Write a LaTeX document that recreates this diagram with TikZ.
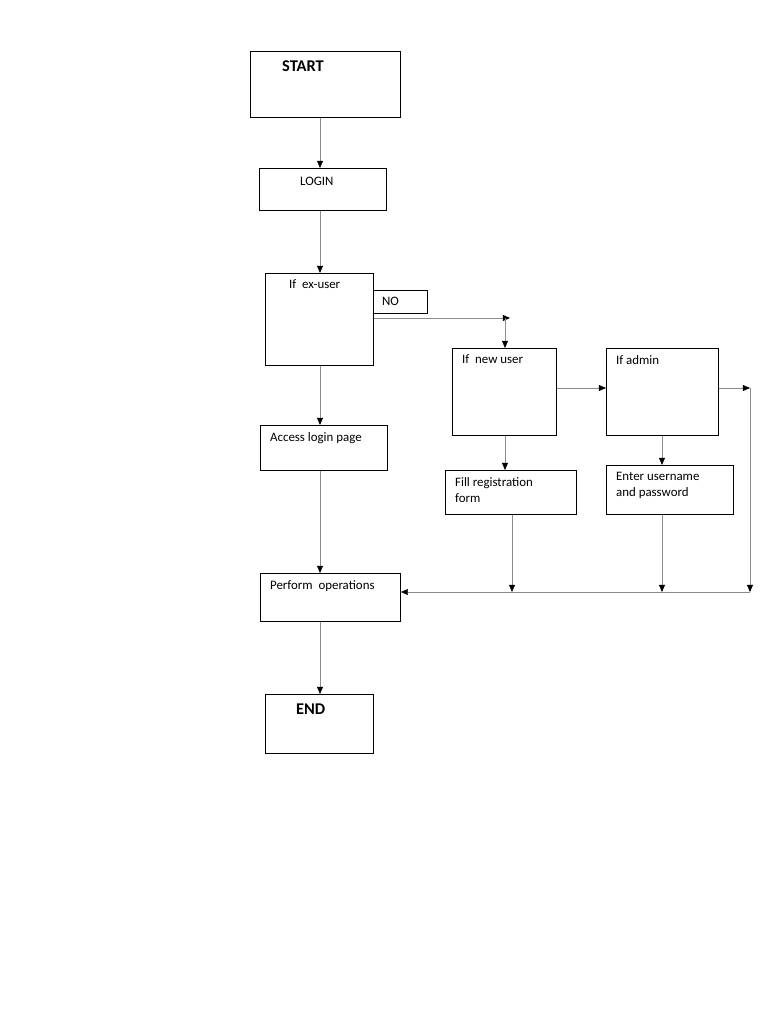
\documentclass[tikz,border=0pt]{standalone}
\usepackage{fontspec}
\setmainfont{Carlito}
\usetikzlibrary{arrows.meta}
\tikzset{
  box/.style={draw, thick, anchor=north west, inner sep=0pt},
  txt/.style={anchor=north west, align=left, font=\fontsize{11}{14}\selectfont},
  big/.style={anchor=north west, font=\fontsize{14}{16}\selectfont\bfseries},
  link/.style={draw=black!45, thin, -{Triangle[black,length=6pt,width=5pt]}},
  plain/.style={draw=black!45, thin}
}
\begin{document}
\begin{tikzpicture}[x=0.03cm,y=-0.03cm]
  \useasboundingbox (0,0) rectangle (768,1024);
  % boxes
  \node[box, minimum width=150*0.03cm, minimum height=66*0.03cm] (start) at (250,51) {};
  \node[big] at (278,57) {START};
  \node[box, minimum width=127*0.03cm, minimum height=42*0.03cm] (login) at (259,168) {};
  \node[txt] at (296,173) {LOGIN};
  \node[box, minimum width=108*0.03cm, minimum height=92*0.03cm] (exuser) at (265,273) {};
  \node[txt] at (285,276) {If\ \ ex-user};
  \node[box, minimum width=54*0.03cm, minimum height=23*0.03cm] (no) at (373,290) {};
  \node[txt] at (378,293) {NO};
  \node[box, minimum width=104*0.03cm, minimum height=87*0.03cm] (newuser) at (452,348) {};
  \node[txt] at (458,351) {If\ \ new user};
  \node[box, minimum width=112*0.03cm, minimum height=87*0.03cm] (admin) at (606,348) {};
  \node[txt] at (612,351) {If admin};
  \node[box, minimum width=127*0.03cm, minimum height=45*0.03cm] (access) at (260,425) {};
  \node[txt] at (266,428) {Access login page};
  \node[box, minimum width=131*0.03cm, minimum height=44*0.03cm] (fill) at (445,470) {};
  \node[txt] at (451,473) {Fill registration\\form};
  \node[box, minimum width=127*0.03cm, minimum height=49*0.03cm] (enter) at (606,465) {};
  \node[txt] at (612,468) {Enter username\\and password};
  \node[box, minimum width=140*0.03cm, minimum height=48*0.03cm] (perform) at (260,573) {};
  \node[txt] at (266,576) {Perform\ \ operations};
  \node[box, minimum width=108*0.03cm, minimum height=59*0.03cm] (end) at (265,694) {};
  \node[big] at (292,700) {END};
  % connectors
  \coordinate (c1) at (510,318);
  \coordinate (c2) at (505,318);
  \coordinate (c3) at (750,388);
  \coordinate (c4) at (750,592);
  \coordinate (f1) at (512,592);
  \coordinate (e1) at (662,592);
  \draw[link] (start.south -| 320,0) -- (login.north -| 320,0);
  \draw[link] (login.south -| 320,0) -- (exuser.north -| 320,0);
  \draw[link] (exuser.south -| 320,0) -- (access.north -| 320,0);
  \draw[link] (access.south -| 320,0) -- (perform.north -| 320,0);
  \draw[link] (perform.south -| 320,0) -- (end.north -| 320,0);
  \draw[link] (exuser.east |- c1) -- (c1);
  \draw[link] (c2) -- (newuser.north -| c2);
  \draw[link] (newuser.east |- c3) -- (admin.west |- c3);
  \draw[link] (admin.east |- c3) -- (c3);
  \draw[link] (c3) -- (c4);
  \draw[link] (newuser.south -| 505,0) -- (fill.north -| 505,0);
  \draw[link] (admin.south -| 662,0) -- (enter.north -| 662,0);
  \draw[link] (fill.south -| f1) -- (f1);
  \draw[link] (enter.south -| e1) -- (e1);
  \draw[link] (c4) -- (perform.east |- c4);
\end{tikzpicture}
\end{document}
